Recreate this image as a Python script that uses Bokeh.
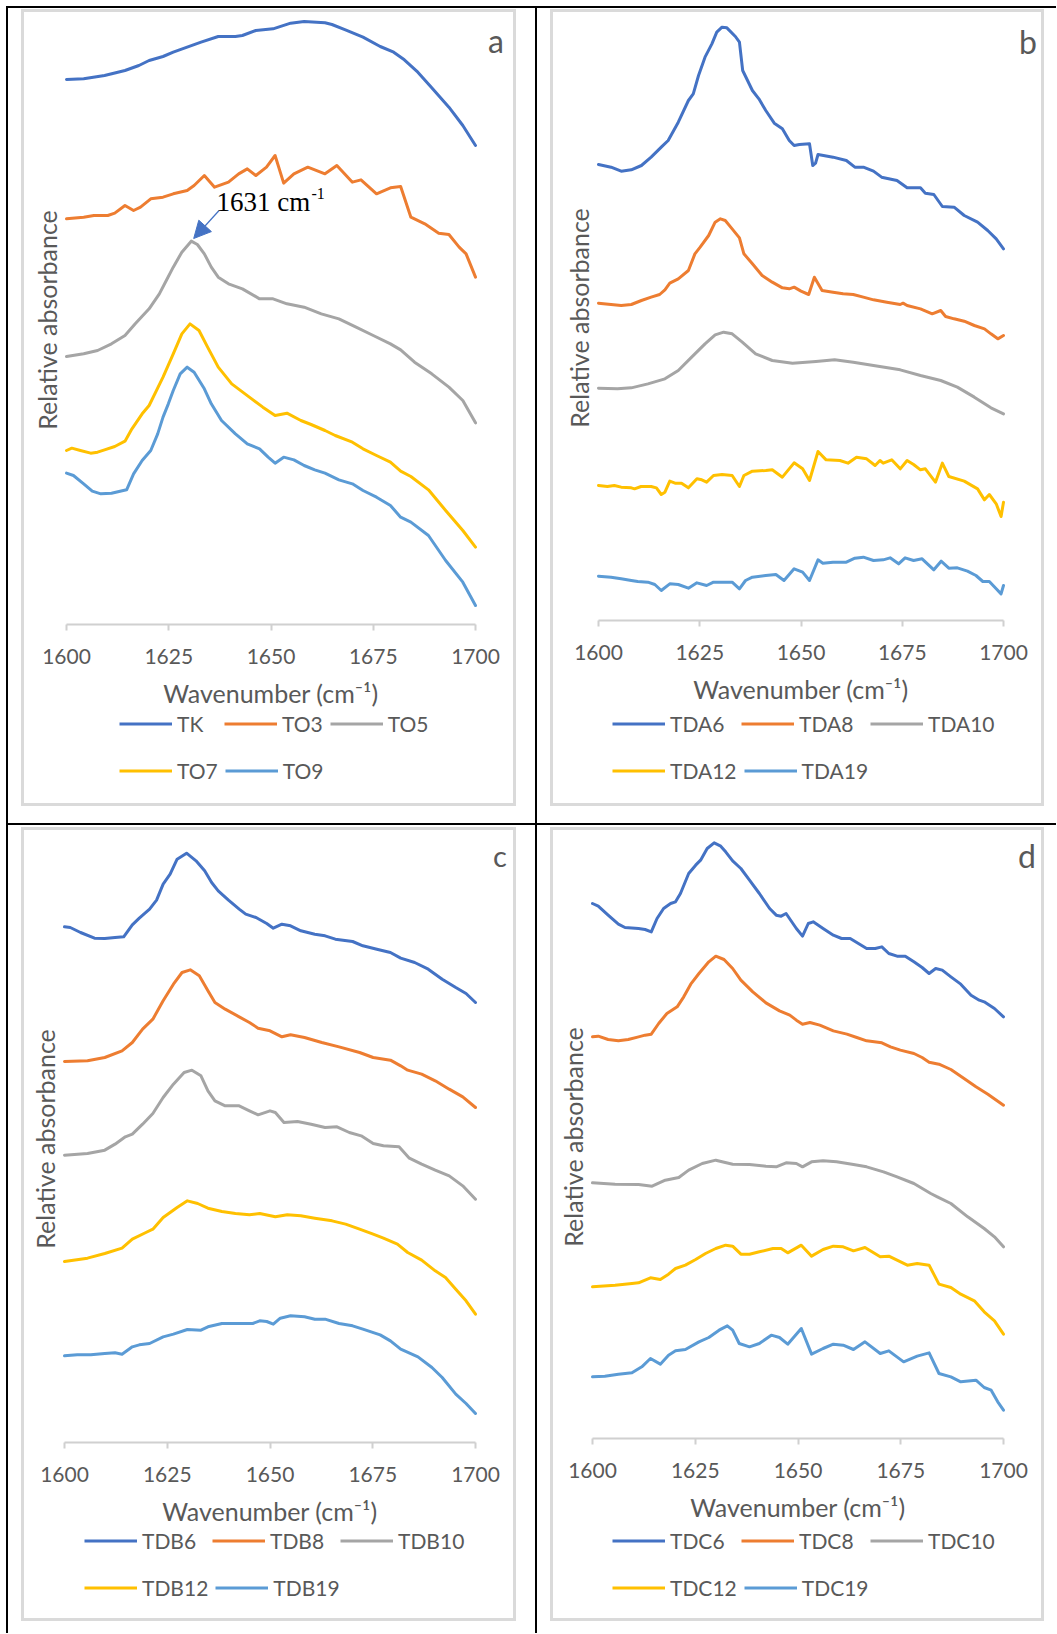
from bokeh.plotting import figure
from bokeh.models import (Range1d, FixedTicker, Legend, LegendItem, Label, Arrow, NormalHead)
from bokeh.layouts import column, row
from bokeh.embed import file_html
from bokeh.resources import INLINE

# ---------------- data (relative absorbance, arbitrary units) ----------------
WAVENUMBER_TICKS = [1600, 1625, 1650, 1675, 1700]

# Panel a
NAMES_A = ["TK", "TO3", "TO5", "TO7", "TO9"]
TK_X = [1600, 1604.2, 1609.3, 1614.3, 1617.7, 1620.2, 1623.6, 1626.1, 1629.5, 1632.9, 1637.1, 1641.3, 1643.0, 1646.3, 1650.5, 1654.8, 1658.1, 1663.2, 1664.9, 1668.2, 1672.5, 1676.7, 1680.0, 1682.6, 1685.9, 1689.3, 1693.5, 1696.9, 1700]
TK_Y = [1.635, 1.637, 1.647, 1.662, 1.677, 1.692, 1.704, 1.717, 1.732, 1.747, 1.764, 1.764, 1.767, 1.782, 1.787, 1.804, 1.809, 1.805, 1.800, 1.784, 1.762, 1.734, 1.717, 1.694, 1.657, 1.610, 1.552, 1.497, 1.437]
TO3_X = [1600, 1604.2, 1606.7, 1610.1, 1611.8, 1614.3, 1616.4, 1618.1, 1620.6, 1623.6, 1626.1, 1629.5, 1631.2, 1633.7, 1636.2, 1639.6, 1642.1, 1644.2, 1646.3, 1648.9, 1651.0, 1653.1, 1655.6, 1659.0, 1663.2, 1666.1, 1669.9, 1672.0, 1675.8, 1679.2, 1681.7, 1684.2, 1687.6, 1691.0, 1693.5, 1696.0, 1697.7, 1700]
TO3_Y = [1.217, 1.222, 1.227, 1.227, 1.234, 1.257, 1.242, 1.252, 1.277, 1.282, 1.292, 1.302, 1.317, 1.347, 1.312, 1.327, 1.352, 1.367, 1.347, 1.372, 1.407, 1.324, 1.352, 1.372, 1.352, 1.377, 1.327, 1.334, 1.292, 1.310, 1.314, 1.222, 1.202, 1.174, 1.170, 1.132, 1.112, 1.042]
TO5_X = [1600, 1604.2, 1607.6, 1611.0, 1614.3, 1616.8, 1620.2, 1622.7, 1624.4, 1626.1, 1628.2, 1630.5, 1632.0, 1633.7, 1635.4, 1637.1, 1639.6, 1643.0, 1647.2, 1650.5, 1653.9, 1658.1, 1662.3, 1666.6, 1670.8, 1675.0, 1679.2, 1681.7, 1685.1, 1689.3, 1693.5, 1696.9, 1700]
TO5_Y = [0.804, 0.812, 0.822, 0.842, 0.867, 0.902, 0.947, 0.992, 1.032, 1.072, 1.117, 1.150, 1.140, 1.112, 1.072, 1.042, 1.022, 1.007, 0.977, 0.977, 0.962, 0.952, 0.932, 0.917, 0.892, 0.867, 0.842, 0.824, 0.787, 0.752, 0.712, 0.672, 0.605]
TO7_X = [1600, 1601.3, 1603.4, 1605.9, 1607.6, 1609.3, 1611.8, 1614.3, 1616.0, 1618.5, 1620.2, 1623.6, 1626.1, 1628.2, 1630.2, 1632.4, 1634.5, 1637.1, 1640.4, 1644.7, 1648.0, 1651.0, 1653.9, 1657.3, 1659.8, 1663.2, 1665.7, 1669.9, 1672.5, 1675.8, 1679.2, 1681.7, 1684.2, 1688.5, 1692.7, 1696.9, 1700]
TO7_Y = [0.522, 0.529, 0.522, 0.514, 0.517, 0.524, 0.534, 0.550, 0.587, 0.632, 0.657, 0.742, 0.812, 0.872, 0.902, 0.882, 0.832, 0.772, 0.722, 0.682, 0.652, 0.627, 0.634, 0.612, 0.600, 0.582, 0.567, 0.547, 0.527, 0.507, 0.487, 0.460, 0.444, 0.404, 0.342, 0.282, 0.232]
TO9_X = [1600, 1601.7, 1604.2, 1606.3, 1608.4, 1611.0, 1613.1, 1614.7, 1616.4, 1618.5, 1620.6, 1622.3, 1623.6, 1624.9, 1626.1, 1627.8, 1629.5, 1631.2, 1633.7, 1635.4, 1637.9, 1641.3, 1644.2, 1647.2, 1649.3, 1651.0, 1653.1, 1655.6, 1658.1, 1660.7, 1663.2, 1666.6, 1669.9, 1672.5, 1675.8, 1679.2, 1681.7, 1684.2, 1688.5, 1692.7, 1696.9, 1700]
TO9_Y = [0.454, 0.447, 0.422, 0.400, 0.392, 0.394, 0.400, 0.404, 0.452, 0.492, 0.522, 0.572, 0.622, 0.662, 0.702, 0.752, 0.772, 0.757, 0.707, 0.662, 0.612, 0.572, 0.542, 0.527, 0.502, 0.484, 0.502, 0.494, 0.477, 0.464, 0.454, 0.434, 0.422, 0.402, 0.382, 0.357, 0.322, 0.307, 0.267, 0.192, 0.127, 0.057]

# Panel b
NAMES_B = ["TDA6", "TDA8", "TDA10", "TDA12", "TDA19"]
TDA6_X = [1600, 1603.1, 1605.6, 1608.1, 1610.6, 1613.0, 1615.5, 1617.2, 1619.7, 1622.2, 1623.4, 1624.7, 1626.3, 1628.0, 1629.2, 1630.5, 1631.7, 1633.8, 1634.8, 1635.6, 1638.0, 1639.6, 1641.3, 1643.4, 1645.4, 1647.1, 1648.3, 1649.6, 1652.1, 1652.9, 1653.6, 1654.2, 1657.9, 1661.2, 1663.3, 1665.4, 1667.9, 1669.9, 1673.7, 1676.2, 1679.5, 1680.7, 1682.8, 1684.9, 1687.8, 1690.3, 1693.6, 1696.1, 1698.2, 1700]
TDA6_Y = [1.368, 1.360, 1.348, 1.352, 1.365, 1.390, 1.420, 1.440, 1.495, 1.560, 1.580, 1.635, 1.690, 1.730, 1.765, 1.780, 1.778, 1.752, 1.735, 1.650, 1.590, 1.565, 1.530, 1.492, 1.475, 1.440, 1.425, 1.428, 1.430, 1.365, 1.372, 1.398, 1.390, 1.380, 1.360, 1.360, 1.348, 1.330, 1.320, 1.298, 1.298, 1.282, 1.278, 1.242, 1.240, 1.215, 1.195, 1.170, 1.145, 1.115]
TDA8_X = [1600, 1603.1, 1605.6, 1608.1, 1610.6, 1613.0, 1615.1, 1616.4, 1617.6, 1619.7, 1622.2, 1623.8, 1625.1, 1627.2, 1628.8, 1630.1, 1631.3, 1633.0, 1634.8, 1635.9, 1638.0, 1640.4, 1642.9, 1645.4, 1647.1, 1648.3, 1650.0, 1651.9, 1653.3, 1655.2, 1657.9, 1660.4, 1662.9, 1665.4, 1667.9, 1671.2, 1674.5, 1675.2, 1676.2, 1679.5, 1682.4, 1684.5, 1685.7, 1687.8, 1690.3, 1692.8, 1695.3, 1696.9, 1698.6, 1700]
TDA8_Y = [0.952, 0.948, 0.945, 0.948, 0.960, 0.970, 0.978, 0.992, 1.012, 1.025, 1.050, 1.100, 1.120, 1.155, 1.195, 1.205, 1.200, 1.175, 1.148, 1.100, 1.070, 1.035, 1.015, 0.998, 0.995, 1.000, 0.988, 0.978, 1.030, 0.990, 0.985, 0.980, 0.978, 0.970, 0.962, 0.955, 0.948, 0.952, 0.945, 0.935, 0.920, 0.930, 0.912, 0.905, 0.898, 0.885, 0.875, 0.860, 0.845, 0.855]
TDA10_X = [1600, 1604.7, 1608.1, 1612.2, 1616.4, 1619.7, 1623.0, 1626.3, 1628.8, 1630.9, 1633.0, 1635.5, 1638.8, 1642.9, 1647.9, 1653.7, 1658.3, 1662.9, 1667.9, 1674.5, 1679.5, 1684.5, 1688.6, 1692.8, 1696.9, 1700]
TDA10_Y = [0.697, 0.695, 0.698, 0.710, 0.725, 0.750, 0.790, 0.830, 0.857, 0.865, 0.860, 0.835, 0.800, 0.780, 0.772, 0.777, 0.782, 0.775, 0.765, 0.752, 0.735, 0.720, 0.700, 0.670, 0.638, 0.620]
TDA12_X = [1600, 1602.2, 1603.9, 1605.6, 1608.1, 1608.9, 1610.5, 1613.0, 1614.3, 1615.5, 1616.4, 1617.6, 1618.9, 1620.5, 1622.2, 1624.3, 1625.5, 1626.7, 1628.4, 1630.5, 1633.0, 1634.8, 1635.9, 1638.0, 1641.3, 1642.9, 1645.4, 1648.3, 1650.4, 1652.1, 1654.2, 1656.2, 1659.6, 1661.6, 1663.7, 1666.2, 1668.3, 1669.5, 1670.3, 1672.4, 1674.5, 1676.2, 1677.8, 1679.5, 1680.7, 1683.2, 1684.9, 1686.5, 1690.3, 1693.6, 1695.3, 1696.5, 1698.2, 1699.4, 1700]
TDA12_Y = [0.405, 0.402, 0.405, 0.400, 0.398, 0.395, 0.402, 0.402, 0.398, 0.378, 0.385, 0.418, 0.412, 0.412, 0.398, 0.425, 0.422, 0.415, 0.435, 0.438, 0.435, 0.402, 0.435, 0.448, 0.450, 0.452, 0.430, 0.473, 0.455, 0.420, 0.507, 0.482, 0.480, 0.472, 0.490, 0.485, 0.465, 0.480, 0.472, 0.482, 0.455, 0.480, 0.468, 0.452, 0.455, 0.415, 0.472, 0.432, 0.418, 0.395, 0.362, 0.378, 0.350, 0.312, 0.355]
TDA19_X = [1600, 1603.1, 1605.6, 1608.1, 1609.7, 1612.2, 1613.9, 1615.5, 1617.6, 1619.7, 1622.2, 1624.3, 1626.7, 1628.4, 1633.0, 1634.8, 1636.3, 1638.0, 1641.3, 1643.8, 1645.8, 1648.3, 1650.4, 1652.1, 1654.2, 1655.4, 1657.9, 1661.2, 1663.3, 1665.4, 1667.9, 1670.3, 1672.0, 1674.1, 1675.7, 1677.8, 1679.9, 1682.8, 1684.6, 1686.5, 1688.6, 1691.1, 1693.2, 1694.9, 1696.5, 1698.2, 1699.4, 1700]
TDA19_Y = [0.133, 0.130, 0.125, 0.120, 0.117, 0.115, 0.108, 0.090, 0.110, 0.108, 0.097, 0.113, 0.105, 0.115, 0.115, 0.095, 0.120, 0.130, 0.135, 0.138, 0.120, 0.155, 0.145, 0.120, 0.182, 0.172, 0.175, 0.175, 0.187, 0.190, 0.180, 0.182, 0.188, 0.170, 0.188, 0.180, 0.185, 0.152, 0.178, 0.157, 0.158, 0.148, 0.135, 0.117, 0.117, 0.095, 0.080, 0.105]

# Panel c
NAMES_C = ["TDB6", "TDB8", "TDB10", "TDB12", "TDB19"]
TDB6_X = [1600, 1601.4, 1603.9, 1607.3, 1609.8, 1612.3, 1614.4, 1616.5, 1618.2, 1620.7, 1622.4, 1624.0, 1625.7, 1627.4, 1629.7, 1632.0, 1634.1, 1635.8, 1637.4, 1639.9, 1642.5, 1644.1, 1646.6, 1649.2, 1650.8, 1652.9, 1655.0, 1657.5, 1660.9, 1663.4, 1665.9, 1670.1, 1672.6, 1676.0, 1679.3, 1681.8, 1685.2, 1688.5, 1691.9, 1695.2, 1697.7, 1700]
TDB6_Y = [1.547, 1.545, 1.530, 1.513, 1.512, 1.515, 1.517, 1.553, 1.573, 1.600, 1.627, 1.675, 1.705, 1.750, 1.768, 1.745, 1.715, 1.680, 1.655, 1.627, 1.600, 1.585, 1.575, 1.557, 1.543, 1.555, 1.550, 1.535, 1.525, 1.520, 1.510, 1.503, 1.490, 1.480, 1.470, 1.453, 1.440, 1.420, 1.390, 1.365, 1.347, 1.320]
TDB8_X = [1600, 1605.6, 1609.8, 1614.0, 1616.5, 1619.0, 1621.5, 1624.0, 1626.5, 1628.6, 1630.6, 1632.8, 1634.9, 1636.6, 1639.1, 1642.5, 1645.0, 1647.1, 1650.0, 1652.9, 1655.0, 1658.4, 1662.6, 1666.8, 1671.8, 1675.1, 1679.3, 1681.8, 1683.5, 1686.9, 1690.2, 1693.6, 1696.9, 1700]
TDB8_Y = [1.143, 1.145, 1.155, 1.175, 1.200, 1.240, 1.270, 1.325, 1.375, 1.410, 1.418, 1.400, 1.355, 1.320, 1.300, 1.277, 1.260, 1.243, 1.235, 1.217, 1.223, 1.215, 1.200, 1.187, 1.170, 1.155, 1.147, 1.130, 1.117, 1.105, 1.085, 1.060, 1.037, 1.005]
TDB10_X = [1600, 1605.6, 1609.8, 1612.3, 1614.8, 1616.5, 1619.0, 1621.5, 1624.0, 1626.5, 1629.1, 1631.0, 1633.2, 1634.9, 1636.6, 1639.1, 1642.5, 1645.0, 1647.1, 1650.0, 1651.3, 1653.4, 1656.7, 1660.0, 1663.4, 1666.3, 1669.3, 1672.2, 1675.1, 1677.6, 1681.4, 1683.9, 1686.9, 1690.2, 1693.6, 1696.9, 1700]
TDB10_Y = [0.862, 0.867, 0.877, 0.895, 0.917, 0.925, 0.955, 0.987, 1.035, 1.075, 1.110, 1.117, 1.100, 1.055, 1.025, 1.010, 1.010, 0.995, 0.983, 0.995, 0.990, 0.960, 0.963, 0.955, 0.945, 0.947, 0.930, 0.920, 0.897, 0.890, 0.887, 0.853, 0.835, 0.817, 0.800, 0.770, 0.730]
TDB12_X = [1600, 1605.6, 1609.8, 1614.0, 1616.5, 1619.8, 1621.5, 1624.0, 1627.4, 1629.9, 1632.4, 1634.9, 1638.3, 1641.6, 1645.0, 1647.5, 1651.3, 1654.2, 1657.5, 1660.9, 1665.1, 1668.4, 1671.8, 1675.1, 1677.6, 1681.0, 1683.5, 1686.9, 1690.2, 1692.7, 1695.2, 1697.7, 1700]
TDB12_Y = [0.543, 0.553, 0.567, 0.583, 0.610, 0.630, 0.640, 0.675, 0.705, 0.725, 0.717, 0.703, 0.693, 0.687, 0.683, 0.687, 0.677, 0.683, 0.680, 0.673, 0.665, 0.655, 0.640, 0.625, 0.613, 0.595, 0.570, 0.547, 0.515, 0.495, 0.460, 0.425, 0.385]
TDB19_X = [1600, 1603.1, 1606.4, 1609.8, 1612.3, 1614.0, 1616.5, 1618.2, 1620.7, 1624.0, 1626.5, 1629.9, 1633.2, 1634.9, 1638.3, 1643.3, 1645.8, 1647.5, 1649.2, 1650.8, 1652.5, 1655.0, 1658.4, 1660.9, 1663.4, 1666.8, 1670.1, 1672.6, 1676.8, 1679.3, 1681.8, 1686.0, 1689.4, 1691.9, 1695.2, 1697.7, 1700]
TDB19_Y = [0.260, 0.263, 0.263, 0.267, 0.269, 0.265, 0.287, 0.293, 0.297, 0.317, 0.325, 0.339, 0.337, 0.347, 0.357, 0.357, 0.357, 0.365, 0.363, 0.355, 0.373, 0.380, 0.377, 0.370, 0.370, 0.357, 0.350, 0.340, 0.323, 0.305, 0.280, 0.257, 0.225, 0.195, 0.145, 0.117, 0.087]

# Panel d
NAMES_D = ["TDC6", "TDC8", "TDC10", "TDC12", "TDC19"]
TDC6_X = [1600, 1601.4, 1603.8, 1606.3, 1607.9, 1611.2, 1612.8, 1614.3, 1615.7, 1617.3, 1619.0, 1620.2, 1621.4, 1623.4, 1625.1, 1626.3, 1627.9, 1629.6, 1631.2, 1632.4, 1634.1, 1636.1, 1638.2, 1640.6, 1643.1, 1644.7, 1645.9, 1647.1, 1649.6, 1651.1, 1652.5, 1653.7, 1656.1, 1658.6, 1660.6, 1662.7, 1664.7, 1666.7, 1668.8, 1670.4, 1672.1, 1674.1, 1676.1, 1678.2, 1680.2, 1681.9, 1683.5, 1685.1, 1687.2, 1689.6, 1692.1, 1694.1, 1695.3, 1697.8, 1700]
TDC6_Y = [1.605, 1.597, 1.570, 1.543, 1.533, 1.530, 1.527, 1.520, 1.560, 1.590, 1.605, 1.610, 1.635, 1.695, 1.720, 1.735, 1.770, 1.787, 1.777, 1.760, 1.733, 1.710, 1.675, 1.635, 1.590, 1.570, 1.567, 1.575, 1.530, 1.507, 1.545, 1.550, 1.530, 1.510, 1.500, 1.500, 1.485, 1.470, 1.470, 1.475, 1.455, 1.447, 1.447, 1.430, 1.413, 1.395, 1.410, 1.405, 1.385, 1.363, 1.330, 1.315, 1.310, 1.290, 1.265]
TDC8_X = [1600, 1601.4, 1603.8, 1606.3, 1608.7, 1611.2, 1612.8, 1614.3, 1616.1, 1618.1, 1620.6, 1622.2, 1623.9, 1625.9, 1628.3, 1630.0, 1632.0, 1634.1, 1636.1, 1639.0, 1642.2, 1645.5, 1648.0, 1649.6, 1651.1, 1652.9, 1655.3, 1658.6, 1661.9, 1664.3, 1666.7, 1670.4, 1672.5, 1674.9, 1678.2, 1680.2, 1681.9, 1684.3, 1687.2, 1690.4, 1693.3, 1696.2, 1700]
TDC8_Y = [1.205, 1.207, 1.197, 1.193, 1.197, 1.205, 1.210, 1.213, 1.245, 1.275, 1.295, 1.325, 1.363, 1.395, 1.430, 1.447, 1.437, 1.410, 1.375, 1.340, 1.307, 1.283, 1.270, 1.255, 1.243, 1.248, 1.240, 1.223, 1.213, 1.203, 1.193, 1.187, 1.175, 1.165, 1.155, 1.143, 1.129, 1.123, 1.107, 1.080, 1.055, 1.033, 1.000]
TDC10_X = [1600, 1605.5, 1611.2, 1614.5, 1617.7, 1621.0, 1623.4, 1626.7, 1630.0, 1634.1, 1638.2, 1642.2, 1644.7, 1647.1, 1649.6, 1651.1, 1653.3, 1656.1, 1659.4, 1663.5, 1666.7, 1670.8, 1674.1, 1678.2, 1682.3, 1683.9, 1687.2, 1691.3, 1695.3, 1697.8, 1700]
TDC10_Y = [0.767, 0.763, 0.762, 0.757, 0.775, 0.783, 0.805, 0.825, 0.835, 0.823, 0.822, 0.817, 0.815, 0.827, 0.825, 0.815, 0.830, 0.833, 0.830, 0.822, 0.815, 0.800, 0.785, 0.765, 0.735, 0.725, 0.705, 0.665, 0.630, 0.605, 0.575]
TDC12_X = [1600, 1605.5, 1609.6, 1611.2, 1614.1, 1616.5, 1618.5, 1620.2, 1622.6, 1625.1, 1627.5, 1630.0, 1632.4, 1634.1, 1636.1, 1638.2, 1640.6, 1643.9, 1645.9, 1647.5, 1650.8, 1653.3, 1656.1, 1658.6, 1661.0, 1663.5, 1666.3, 1670.0, 1672.1, 1674.1, 1676.6, 1679.0, 1681.9, 1684.3, 1687.2, 1689.6, 1692.9, 1695.3, 1697.8, 1700]
TDC12_Y = [0.455, 0.460, 0.465, 0.467, 0.482, 0.477, 0.493, 0.510, 0.520, 0.537, 0.555, 0.570, 0.580, 0.577, 0.553, 0.553, 0.560, 0.570, 0.570, 0.557, 0.580, 0.547, 0.567, 0.577, 0.575, 0.563, 0.573, 0.545, 0.547, 0.535, 0.520, 0.525, 0.520, 0.463, 0.453, 0.433, 0.413, 0.380, 0.353, 0.313]
TDC19_X = [1600, 1603.0, 1606.3, 1609.6, 1612.0, 1614.1, 1616.5, 1618.5, 1620.2, 1622.6, 1625.9, 1628.3, 1630.8, 1632.8, 1634.1, 1635.7, 1638.2, 1640.6, 1643.5, 1645.5, 1647.5, 1650.8, 1653.3, 1656.1, 1658.6, 1661.0, 1663.5, 1666.3, 1670.0, 1672.1, 1675.7, 1679.0, 1681.9, 1684.3, 1687.2, 1689.6, 1693.3, 1695.3, 1697.0, 1698.6, 1700]
TDC19_Y = [0.185, 0.187, 0.193, 0.197, 0.215, 0.240, 0.223, 0.250, 0.263, 0.267, 0.290, 0.303, 0.325, 0.338, 0.325, 0.285, 0.275, 0.285, 0.310, 0.303, 0.283, 0.330, 0.253, 0.270, 0.283, 0.280, 0.267, 0.290, 0.255, 0.263, 0.230, 0.247, 0.257, 0.195, 0.185, 0.170, 0.175, 0.153, 0.145, 0.110, 0.085]

PEAK_LABEL = "1631 cm"
PEAK_SUP = "-1"

# ---------------- styling ----------------
COLORS = ["#4472C4", "#ED7D31", "#A5A5A5", "#FFC000", "#5B9BD5"]
FONT = "Lato"
TXT = "#595959"
AXIS_GREY = "#D0D0D0"
CHART_GREY = "#DADADA"
BLACK = "#000000"
PX_PER_UNIT = 1000.0 / 3.0


def css_rects(rects, dy=0):
    """CSS background layers drawing thin rules (table lines / chart-area border)."""
    layers = []
    for (x, y, w, h, c) in rects:
        layers.append(f"linear-gradient({c},{c}) {x}px {y + dy}px / {w}px {h}px no-repeat")
    return ", ".join(layers)


def chart_border(l, t, r, b, c=CHART_GREY, th=3):
    return [(l, t, r - l, th, c), (l, b - th, r - l, th, c),
            (l, t, th, b - t, c), (r - th, t, th, b - t, c)]


def make_panel(names, xs, ys, w, h_chart, h_leg, axis_left, axis_px, right, top, bottom,
               letter, letter_xy, letter_size, legend_x, row_centers, label_w, rules):
    # The frame is padded equally on both sides of the 1600-1700 axis so that the
    # axis title stays centred on the axis while the panel letter fits inside the frame.
    frame_right = w - right
    pad = frame_right - (axis_left + axis_px)
    left = axis_left - pad
    frame_h = h_chart - top - bottom
    pad_units = 100.0 * pad / axis_px
    p = figure(width=w, height=h_chart,
               x_range=Range1d(1600 - pad_units, 1700 + pad_units),
               y_range=Range1d(0, frame_h / PX_PER_UNIT),
               output_backend="svg", toolbar_location=None,
               min_border_left=left, min_border_right=right,
               min_border_top=top, min_border_bottom=bottom,
               styles={"background": css_rects(rules)})
    p.outline_line_color = None
    p.grid.visible = False
    p.background_fill_color = None
    p.border_fill_color = None

    xa = p.xaxis[0]
    xa.ticker = FixedTicker(ticks=WAVENUMBER_TICKS)
    xa.bounds = (1600, 1700)
    xa.axis_label = "Wavenumber (cm\u207b\u00b9)"
    xa.axis_line_color = AXIS_GREY
    xa.axis_line_width = 2
    xa.major_tick_line_color = AXIS_GREY
    xa.major_tick_line_width = 2
    xa.major_tick_in = 0
    xa.major_tick_out = 6
    xa.minor_tick_line_color = None
    xa.major_label_text_font = FONT
    xa.major_label_text_font_size = "21px"
    xa.major_label_text_color = TXT
    xa.major_label_standoff = 18
    xa.axis_label_text_font = FONT
    xa.axis_label_text_font_size = "25px"
    xa.axis_label_text_font_style = "normal"
    xa.axis_label_text_color = TXT
    xa.axis_label_standoff = 11

    ya = p.yaxis[0]
    ya.ticker = FixedTicker(ticks=[])
    ya.axis_line_color = None
    ya.major_tick_line_color = None
    ya.minor_tick_line_color = None
    ya.major_tick_in = 0
    ya.major_tick_out = 0
    ya.minor_tick_in = 0
    ya.minor_tick_out = 0
    ya.major_label_text_font_size = "0px"
    ya.axis_label = "Relative absorbance"
    ya.axis_label_text_font = FONT
    ya.axis_label_text_font_size = "25px"
    ya.axis_label_text_font_style = "normal"
    ya.axis_label_text_color = TXT
    ya.axis_label_standoff = 5 - pad

    for x, y, c in zip(xs, ys, COLORS):
        p.line(x, y, line_color=c, line_width=3, line_join="round", line_cap="round")

    p.add_layout(Label(x=letter_xy[0] - left, y=letter_xy[1], x_units="screen", y_units="screen",
                       text=letter, text_font=FONT, text_font_size=letter_size,
                       text_color=TXT, text_align="center", text_baseline="alphabetic"))

    # legend strip underneath the chart (same series, drawn off-range so only the key shows);
    # its frame is aligned with the chart frame by the column layout, hence x - left.
    q = figure(width=w, height=h_leg, x_range=Range1d(0, 1), y_range=Range1d(0, 1),
               x_axis_type=None, y_axis_type=None, output_backend="svg",
               toolbar_location=None, min_border=0,
               styles={"background": css_rects(rules, dy=-h_chart)})
    q.outline_line_color = None
    q.background_fill_color = None
    q.border_fill_color = None
    items = []
    for name, x, y, c in zip(names, xs, ys, COLORS):
        r = q.line(x, y, line_color=c, line_width=3)
        items.append(LegendItem(label=name, renderers=[r]))
    row_h = 25
    for its, cy in ((items[:3], row_centers[0]), (items[3:], row_centers[1])):
        leg = Legend(items=its, location=(legend_x - left, h_leg - cy - row_h / 2),
                     orientation="horizontal",
                     glyph_width=53, glyph_height=row_h, label_height=row_h,
                     label_standoff=5, spacing=7, padding=0, margin=0, label_width=label_w,
                     label_text_font=FONT, label_text_font_size="21px", label_text_color=TXT,
                     background_fill_alpha=0, border_line_color=None)
        q.add_layout(leg)
    return p, column(p, q)


rules_a = [(6, 6, 2, 818, BLACK), (6, 6, 530, 2, BLACK), (535, 6, 1, 818, BLACK),
           (6, 823, 530, 1, BLACK)] + chart_border(21, 9, 516, 806)
rules_b = [(0, 6, 520, 2, BLACK), (0, 6, 1, 818, BLACK), (0, 823, 520, 1, BLACK)] \
    + chart_border(14, 9, 508, 806)
rules_c = [(6, 0, 530, 1, BLACK), (6, 0, 2, 809, BLACK), (535, 0, 1, 809, BLACK)] \
    + chart_border(21, 3, 516, 797)
rules_d = [(0, 0, 520, 1, BLACK), (0, 0, 1, 809, BLACK)] + chart_border(14, 3, 508, 797)

pa, cell_a = make_panel(NAMES_A, [TK_X, TO3_X, TO5_X, TO7_X, TO9_X],
                        [TK_Y, TO3_Y, TO5_Y, TO7_Y, TO9_Y],
                        536, 710, 114, 66, 409, 26, 15, 86, "a", (495.5, 584.5), "32px",
                        119, (13, 60), 40, rules_a)
pb, cell_b = make_panel(NAMES_B, [TDA6_X, TDA8_X, TDA10_X, TDA12_X, TDA19_X],
                        [TDA6_Y, TDA8_Y, TDA10_Y, TDA12_Y, TDA19_Y],
                        520, 706, 118, 62, 405, 16, 15, 86, "b", (491.5, 579), "32px",
                        76, (17, 64), 64, rules_b)
pc, cell_c = make_panel(NAMES_C, [TDB6_X, TDB8_X, TDB10_X, TDB12_X, TDB19_X],
                        [TDB6_Y, TDB8_Y, TDB10_Y, TDB12_Y, TDB19_Y],
                        536, 704, 105, 64, 411, 26, 11, 86, "c", (499.5, 587.5), "29px",
                        84, (12, 59), 63, rules_c)
pd, cell_d = make_panel(NAMES_D, [TDC6_X, TDC8_X, TDC10_X, TDC12_X, TDC19_X],
                        [TDC6_Y, TDC8_Y, TDC10_Y, TDC12_Y, TDC19_Y],
                        520, 700, 109, 56, 411, 16, 11, 86, "d", (490.5, 583.5), "32px",
                        76, (16, 63), 64, rules_d)

# peak annotation in panel a
peak_y = max(TO5_Y)
pa.add_layout(Arrow(end=NormalHead(size=17, fill_color="#4472C4", line_color="#4472C4"),
                    x_start=1637.3, y_start=1.242, x_end=1631.1, y_end=peak_y + 0.008,
                    line_color="#4472C4", line_width=1.2))
pa.add_layout(Label(x=1636.7, y=1.268, text=PEAK_LABEL, text_font="Liberation Serif",
                    text_font_size="27px", text_color="black", text_baseline="alphabetic"))
pa.add_layout(Label(x=1659.9, y=1.292, text=PEAK_SUP, text_font="Liberation Serif",
                    text_font_size="16px", text_color="black", text_baseline="alphabetic"))

layout = column(row(cell_a, cell_b), row(cell_c, cell_d))
open("out.html", "w").write(file_html(layout, INLINE))
